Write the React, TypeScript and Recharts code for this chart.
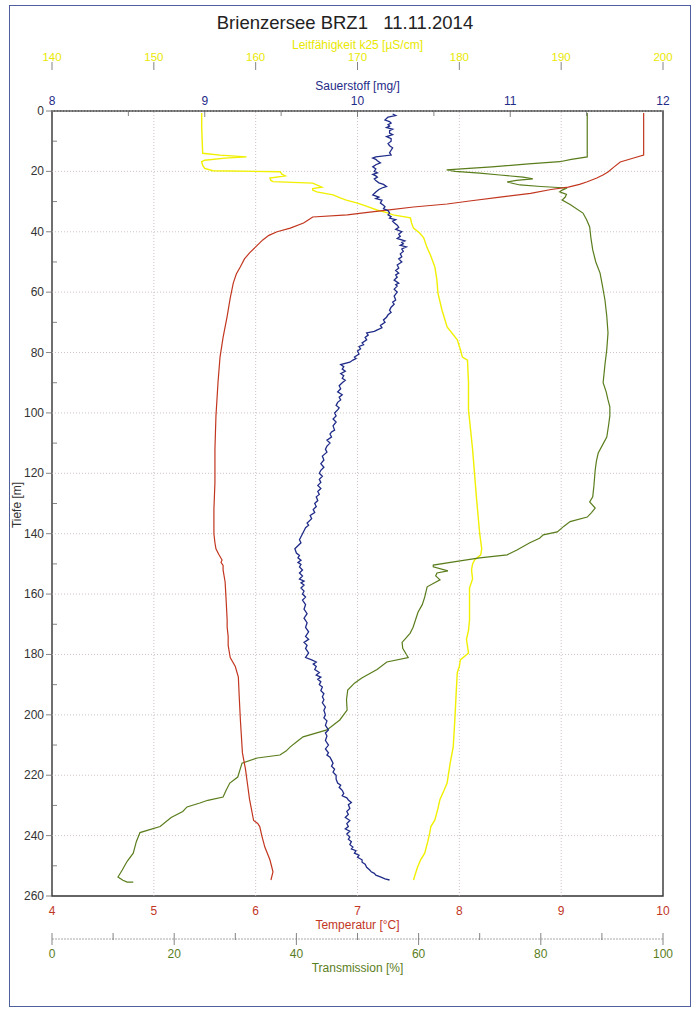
import React from 'react';
import { ScatterChart, Scatter, XAxis, YAxis, ReferenceLine, ReferenceArea } from 'recharts';

const FONT = '"Liberation Sans", Arial, sans-serif';

// axis ticks
const depthTicks = [0, 10, 20, 30, 40, 50, 60, 70, 80, 90, 100, 110, 120, 130, 140, 150, 160, 170, 180, 190, 200, 210, 220, 230, 240, 250, 260];
const depthGrid = [20, 40, 60, 80, 100, 120, 140, 160, 180, 200, 220, 240];
const tempTicks = [4, 5, 6, 7, 8, 9, 10];
const tempGrid = [5, 6, 7, 8, 9];
const condTicks = [140, 150, 160, 170, 180, 190, 200];
const oxyTicks = [8, 8.5, 9, 9.5, 10, 10.5, 11, 11.5, 12];
const transTicks = [0, 10, 20, 30, 40, 50, 60, 70, 80, 90, 100];

// Temperatur [°C]
const tempDepth = [0.7, 5, 10, 14.6, 15.5, 16.9, 18.5, 20.2, 21.2, 22.2, 23.5, 24.3, 25.2, 26, 27.3, 28.5, 29.8, 30.8, 31.8, 32.8, 33.6, 34.4, 35.1, 36, 37.1, 38.8, 40, 41.2, 42.7, 45, 47, 49, 51.6, 54, 57, 62, 68, 75, 81.5, 90, 101, 112, 123, 132, 140, 143, 145, 147, 148.7, 149.5, 150.5, 152, 156, 162, 168.6, 171, 174, 177, 181, 184, 187.5, 195, 201.7, 212.6, 218, 223, 228, 235, 236, 237, 240, 243.8, 248, 252, 254.7];
const tempValue = [9.81, 9.81, 9.81, 9.81, 9.72, 9.58, 9.52, 9.46, 9.41, 9.35, 9.25, 9.18, 9.07, 8.9, 8.7, 8.4, 8.1, 7.88, 7.55, 7.29, 7.1, 6.9, 6.56, 6.52, 6.47, 6.34, 6.21, 6.13, 6.07, 6.0, 5.94, 5.89, 5.85, 5.81, 5.78, 5.75, 5.72, 5.68, 5.65, 5.63, 5.61, 5.6, 5.6, 5.59, 5.59, 5.6, 5.61, 5.64, 5.67, 5.66, 5.68, 5.68, 5.7, 5.71, 5.72, 5.72, 5.73, 5.73, 5.75, 5.8, 5.83, 5.84, 5.85, 5.87, 5.9, 5.92, 5.94, 5.98, 6.02, 6.04, 6.06, 6.09, 6.14, 6.17, 6.15];

// Sauerstoff [mg/l] as [depth, value]
const oxyProfile: [number, number][] = [
  [1, 10.23], [1.5, 10.25], [2, 10.2], [2.5, 10.19], [3, 10.18], [3.5, 10.21], [4, 10.22], [4.5, 10.2], [5, 10.21], [5.5, 10.19],
  [6, 10.23], [6.5, 10.21], [7.3, 10.21], [7.8, 10.23], [8.5, 10.19], [9.2, 10.22], [10, 10.22], [10.8, 10.2], [11.5, 10.21], [12.2, 10.23],
  [13, 10.22], [13.8, 10.21], [14.6, 10.22], [15.2, 10.12], [15.6, 10.1], [16, 10.12], [16.5, 10.13], [17.2, 10.15], [17.8, 10.12], [18.5, 10.1],
  [19.2, 10.12], [20, 10.11], [20.5, 10.13], [21, 10.1], [21.5, 10.12], [21.9, 10.13], [22.5, 10.11], [23, 10.12], [23.8, 10.14], [24.3, 10.17],
  [25, 10.19], [25.5, 10.16], [26, 10.14], [26.8, 10.12], [27.8, 10.1], [28.5, 10.14], [29, 10.12], [29.5, 10.16], [30.5, 10.15], [31.2, 10.17],
  [31.7, 10.18], [32.4, 10.17], [33, 10.2], [33.8, 10.21], [34.4, 10.2], [35, 10.22], [35.5, 10.21], [36, 10.25], [36.5, 10.23], [37, 10.24],
  [37.8, 10.26], [38.5, 10.27], [39.2, 10.25], [40, 10.29], [40.8, 10.27], [41.5, 10.28], [42.2, 10.26], [43, 10.31], [43.5, 10.29], [44, 10.3],
  [44.5, 10.28], [45, 10.32], [45.7, 10.29], [46.5, 10.3], [47.3, 10.28], [48.3, 10.29], [49, 10.27], [50, 10.29], [51, 10.26], [52, 10.27],
  [52.8, 10.25], [53.7, 10.27], [54.3, 10.25], [55, 10.26], [56, 10.24], [57, 10.27], [57.5, 10.25], [58, 10.26], [59, 10.24], [60, 10.26],
  [61.3, 10.24], [62.6, 10.25], [63.3, 10.23], [64, 10.24], [65, 10.22], [66, 10.21], [66.7, 10.22], [67.5, 10.2], [68.3, 10.19], [69.2, 10.17],
  [70, 10.18], [71, 10.15], [71.8, 10.16], [72.5, 10.13], [73, 10.11], [73.5, 10.06], [74.2, 10.07], [75, 10.05], [75.8, 10.06], [76.8, 10.03],
  [77.4, 10.04], [78, 10.01], [78.8, 10.02], [79.5, 10.0], [80.5, 10.01], [81.5, 9.98], [82, 9.99], [82.5, 9.97], [83.2, 9.95], [84, 9.89],
  [84.7, 9.91], [85.5, 9.9], [86.2, 9.92], [87, 9.89], [87.7, 9.91], [88.5, 9.9], [89.2, 9.92], [90, 9.9], [91, 9.88], [92, 9.89],
  [93, 9.87], [94, 9.9], [94.8, 9.88], [95.7, 9.89], [96.5, 9.87], [97.5, 9.86], [98.3, 9.88], [99, 9.87], [100, 9.85], [101, 9.86],
  [102, 9.84], [103, 9.86], [104.3, 9.84], [105.7, 9.85], [106.3, 9.83], [107, 9.82], [108, 9.83], [109, 9.8], [110, 9.82], [111, 9.8],
  [112, 9.79], [113, 9.8], [114.3, 9.77], [115.6, 9.78], [116.8, 9.76], [118, 9.78], [119, 9.76], [120, 9.75], [121, 9.77], [122, 9.75],
  [123, 9.76], [124, 9.74], [125, 9.76], [126, 9.74], [127, 9.75], [127.8, 9.73], [129, 9.74], [130, 9.72], [131, 9.73], [132, 9.71],
  [133, 9.72], [134, 9.69], [135, 9.7], [136.5, 9.67], [137.2, 9.68], [138, 9.66], [139, 9.65], [140, 9.64], [141, 9.63], [142, 9.62],
  [143, 9.63], [144, 9.61], [145, 9.59], [146.4, 9.6], [147.2, 9.62], [148, 9.61], [148.8, 9.63], [149.5, 9.61], [150.2, 9.63], [151, 9.62],
  [152, 9.64], [153, 9.62], [154, 9.64], [155, 9.62], [155.7, 9.65], [156.3, 9.63], [157, 9.65], [158, 9.63], [159, 9.65], [160, 9.64],
  [161, 9.66], [162, 9.64], [163.5, 9.66], [165, 9.65], [166.5, 9.67], [168, 9.65], [169.5, 9.67], [171, 9.66], [172.5, 9.68], [174, 9.66],
  [175, 9.68], [176, 9.65], [177, 9.67], [178, 9.66], [179.5, 9.68], [181, 9.66], [181.8, 9.7], [182.5, 9.73], [183.2, 9.71], [184, 9.73],
  [185, 9.72], [186, 9.75], [186.8, 9.73], [187.5, 9.76], [188.2, 9.74], [189, 9.76], [190, 9.75], [190.8, 9.77], [192, 9.76], [193, 9.78],
  [194, 9.77], [195, 9.78], [196, 9.77], [197.4, 9.79], [198.5, 9.78], [200, 9.79], [201, 9.78], [202, 9.8], [203.5, 9.79], [205, 9.81],
  [206, 9.79], [207, 9.8], [208.5, 9.79], [210, 9.81], [211.3, 9.79], [212.6, 9.81], [213.3, 9.8], [214, 9.82], [215, 9.83], [216, 9.84],
  [217, 9.83], [218, 9.85], [219, 9.84], [220, 9.86], [221.3, 9.86], [222.6, 9.87], [223.3, 9.89], [224, 9.88], [225, 9.9], [226, 9.91],
  [226.8, 9.9], [227.5, 9.93], [228.2, 9.94], [229, 9.96], [229.8, 9.94], [231, 9.95], [232, 9.93], [233, 9.94], [234, 9.92], [235, 9.95],
  [236, 9.93], [237, 9.94], [237.8, 9.92], [238.5, 9.95], [239.5, 9.93], [240.5, 9.95], [241.2, 9.94], [242, 9.96], [243, 9.95], [243.8, 9.97],
  [244.4, 9.96], [245, 9.99], [245.8, 9.98], [246.5, 10.01], [247.2, 10.0], [248, 10.03], [248.8, 10.03], [249.5, 10.05], [250.5, 10.06], [251.4, 10.08],
  [252, 10.09], [252.5, 10.11], [253.1, 10.12], [253.7, 10.15], [254.3, 10.18], [254.7, 10.21],
];

// Leitfähigkeit k25 [µS/cm]
const condDepth = [0.7, 5, 10, 14, 14.6, 15.2, 15.6, 16.3, 16.8, 18, 19, 19.8, 20.1, 21, 21.5, 22.2, 23, 23.4, 23.9, 25.2, 25.7, 26.2, 26.8, 27.8, 28.8, 29.5, 30.5, 31.7, 32.8, 33.6, 34.4, 35.4, 37, 38.8, 40.4, 42, 45, 48, 51.7, 56, 60.3, 66, 71.5, 75.8, 79, 81.5, 82.5, 90, 99, 112, 128.8, 140, 145, 147, 148.7, 150, 152, 155, 158, 162, 168.6, 172, 175, 179.5, 181.8, 184, 186, 192, 199, 205, 210.6, 216, 222.6, 225, 228, 231, 234.8, 237, 239, 242, 245.8, 248, 250.4, 252.5, 254.7];
const condValue = [154.7, 154.7, 154.75, 154.8, 156.5, 159.1, 157, 155, 154.7, 154.8, 155, 155.8, 162.4, 162.6, 162.9, 161.4, 161.5, 161.7, 165.6, 166.5, 165.6, 165.6, 166, 167.6, 168.3, 168.9, 170, 171, 171.9, 172.8, 173.5, 175.2, 175.3, 175.5, 176.1, 176.5, 176.8, 177.2, 177.6, 177.8, 177.9, 178.3, 178.8, 179.8, 180.1, 180.3, 180.8, 180.9, 180.9, 181.3, 181.7, 182, 182.2, 182.1, 181.5, 181.3, 181.2, 181.3, 181, 181, 181, 180.9, 180.7, 180.9, 180.1, 180, 179.8, 179.7, 179.6, 179.5, 179.4, 179.1, 178.8, 178.5, 178.1, 177.9, 177.6, 177.2, 177.1, 176.9, 176.6, 176.2, 175.9, 175.7, 175.5];

// Transmission [%]
const transDepth = [0.7, 8, 15.2, 16, 16.8, 17.5, 18.5, 19.2, 19.5, 20, 20.6, 21.2, 21.9, 22.5, 23, 23.5, 24, 24.5, 25, 25.5, 26.2, 26.8, 27.6, 28.5, 29.5, 31, 33.8, 36, 38.4, 42, 46, 50, 53.7, 58, 62.6, 68, 73.5, 79, 84, 90, 93, 95.7, 98, 101, 104, 108, 111, 113.3, 116, 119, 124, 127.8, 129.5, 131.5, 133, 134.5, 136, 137.5, 139.4, 140.4, 141.5, 143, 145.4, 147, 148, 149, 150.4, 151, 152.3, 153, 154, 155.3, 157.6, 161, 163.5, 166, 171, 173, 176, 178, 181, 182.5, 185, 187.8, 189.5, 191.8, 195, 198.4, 201.7, 205, 207.3, 209, 210.6, 212, 213.3, 214.3, 216, 218, 220.6, 222.6, 225, 227.2, 228.3, 229.2, 230.5, 232, 234, 237, 238, 239, 242, 245.8, 248.5, 251.4, 253.7, 254.8, 255.4, 255.4];
const transValue = [87.6, 87.6, 87.6, 85, 83.1, 78, 72, 67, 64.6, 66, 70, 73.3, 77.1, 78.7, 76, 74.5, 75.5, 76.6, 80, 84.3, 83.5, 83.1, 84.2, 84, 83.5, 84.8, 86.9, 87.5, 88, 88.2, 88.5, 89, 89.7, 90.1, 90.5, 90.8, 91, 90.8, 90.5, 90.2, 90.7, 91, 91.3, 91.3, 91.1, 90.8, 90, 89.4, 89.1, 88.9, 88.7, 88.5, 88, 88.9, 88.3, 87.6, 84.8, 83.8, 82.7, 80.4, 79.8, 78.2, 76.1, 74.5, 70, 66.8, 62.4, 62.4, 64.8, 63, 62.8, 63.5, 61.4, 61, 60.6, 59.9, 59.1, 58.6, 57.3, 57.4, 58.3, 54.8, 53.2, 50.7, 49.5, 48.4, 48.2, 48.3, 47.1, 45, 41.1, 40, 39, 38.3, 37.3, 33.6, 31.1, 30.8, 30.4, 29.1, 28.5, 28, 25.5, 24.2, 22.1, 21.4, 19.5, 17.7, 16, 14.4, 13.8, 13.3, 12.3, 11.5, 10.8, 11.6, 12.3, 13.3];

const toPoints = (depth: number[], value: number[]) => depth.map((d, i) => ({ d, v: value[i] }));
const tempData = toPoints(tempDepth, tempValue);
const oxyData = oxyProfile.map(([d, v]) => ({ d, v }));
const condData = toPoints(condDepth, condValue);
const transData = toPoints(transDepth, transValue);

const RED = '#c2361f';
const BLUE = '#1f2b88';
const YELLOW = '#f0f000';
const GREEN = '#5a7d1c';
const CENTER = 357.5;

const noShape = () => <g />;

const axisTitle = (text: string, y: number, color: string) => () => (
  <text x={CENTER} y={y} textAnchor="middle" dominantBaseline="central" fill={color} fontSize={12} fontFamily={FONT}>
    {text}
  </text>
);

const xTick = (labelY: number, color: string, size: number, isLabel: (v: number) => boolean, seg: (v: number) => number[] | null) =>
  (props: any) => {
    const { x, payload } = props;
    const v = payload.value;
    const s = seg(v);
    return (
      <g>
        {s && <line x1={x} x2={x} y1={s[0]} y2={s[1]} stroke="#666" strokeWidth={0.8} />}
        {isLabel(v) && (
          <text x={x} y={labelY} textAnchor="middle" dominantBaseline="central" fill={color} fontSize={size} fontFamily={FONT}>
            {v}
          </text>
        )}
      </g>
    );
  };

const YTick = (props: any) => {
  const { y, payload } = props;
  const v = payload.value;
  if (v % 20 !== 0) {
    return <line x1={52} x2={57} y1={y} y2={y} stroke="#666" strokeWidth={0.8} />;
  }
  return (
    <g>
      <line x1={46} x2={52} y1={y} y2={y} stroke="#666" strokeWidth={0.8} />
      <text x={44} y={y} textAnchor="end" dominantBaseline="central" fill="#333" fontSize={12} fontFamily={FONT}>
        {v}
      </text>
    </g>
  );
};

const depthTitle = () => (
  <text x={17} y={505} transform="rotate(-90 17 505)" textAnchor="middle" dominantBaseline="central" fill="#333" fontSize={12} fontFamily={FONT}>
    Tiefe [m]
  </text>
);

export default function App() {
  return (
    <div style={{ position: 'absolute', left: 0, top: 0, width: 696, height: 1011, background: '#fff' }}>
      <div style={{ position: 'absolute', left: 9, top: 5, width: 682, height: 1002, border: '1.5px solid #50609e', boxSizing: 'border-box' }} />
      <div style={{ position: 'absolute', left: 0, top: 11, width: 690, textAlign: 'center', fontFamily: FONT, fontSize: 18.5, lineHeight: '24px', color: '#222', whiteSpace: 'pre' }}>
        Brienzersee BRZ1   11.11.2014
      </div>
      <div style={{ position: 'absolute', left: 0, top: 0 }}>
        <ScatterChart width={696} height={1011} margin={{ top: 37, right: 33, bottom: 32, left: 0 }}>
          <XAxis xAxisId="oxy" orientation="top" type="number" dataKey="v" domain={[8, 12]} ticks={oxyTicks} interval={0} height={44} allowDataOverflow
            axisLine={false} tickLine={false}
            tick={xTick(101, BLUE, 12, (v) => v % 1 === 0, (v) => (v % 1 === 0 ? [111, 117] : [111, 116]))}
            label={axisTitle('Sauerstoff [mg/]', 86, BLUE)} />
          <XAxis xAxisId="cond" orientation="top" type="number" dataKey="v" domain={[140, 200]} ticks={condTicks} interval={0} height={30} allowDataOverflow
            axisLine={{ stroke: '#aaa', strokeDasharray: '2 1' }} tickLine={false}
            tick={xTick(57, '#e8e800', 11.5, () => true, () => [62, 70])}
            label={axisTitle('Leitfähigkeit k25 [µS/cm]', 45, '#e8e800')} />
          <XAxis xAxisId="temp" orientation="bottom" type="number" dataKey="v" domain={[4, 10]} ticks={tempTicks} interval={0} height={43} allowDataOverflow
            axisLine={false} tickLine={false}
            tick={xTick(911, RED, 12, () => true, () => null)}
            label={axisTitle('Temperatur [°C]', 925, RED)} />
          <XAxis xAxisId="trans" orientation="bottom" type="number" dataKey="v" domain={[0, 100]} ticks={transTicks} interval={0} height={40} allowDataOverflow
            axisLine={{ stroke: '#aaa', strokeDasharray: '2 1' }} tickLine={false}
            tick={xTick(954, GREEN, 12, (v) => v % 20 === 0, (v) => (v % 20 === 0 ? [933, 945] : [933, 940]))}
            label={axisTitle('Transmission [%]', 968, GREEN)} />
          <YAxis yAxisId="depth" type="number" dataKey="d" domain={[0, 260]} reversed ticks={depthTicks} interval={0} width={52} allowDataOverflow
            axisLine={false} tickLine={false} tick={YTick} label={depthTitle} />

          {depthGrid.map((g) => (
            <ReferenceLine key={'h' + g} xAxisId="temp" yAxisId="depth" y={g} stroke="#c4b4b4" strokeWidth={0.8} strokeDasharray="1 2" />
          ))}
          {tempGrid.map((g) => (
            <ReferenceLine key={'v' + g} xAxisId="temp" yAxisId="depth" x={g} stroke="#c4b4b4" strokeWidth={0.8} strokeDasharray="1 2" />
          ))}

          <Scatter data={condData} xAxisId="cond" yAxisId="depth" line={{ stroke: YELLOW, strokeWidth: 1.4 }} shape={noShape} isAnimationActive={false} />
          <Scatter data={transData} xAxisId="trans" yAxisId="depth" line={{ stroke: GREEN, strokeWidth: 1.2 }} shape={noShape} isAnimationActive={false} />
          <Scatter data={tempData} xAxisId="temp" yAxisId="depth" line={{ stroke: RED, strokeWidth: 1.2 }} shape={noShape} isAnimationActive={false} />
          <Scatter data={oxyData} xAxisId="oxy" yAxisId="depth" line={{ stroke: BLUE, strokeWidth: 1.3 }} shape={noShape} isAnimationActive={false} />

          <ReferenceArea xAxisId="temp" yAxisId="depth" x1={4} x2={10} y1={0} y2={260} fill="none" stroke="#333" strokeWidth={1.4} ifOverflow="visible" />
        </ScatterChart>
      </div>
    </div>
  );
}
